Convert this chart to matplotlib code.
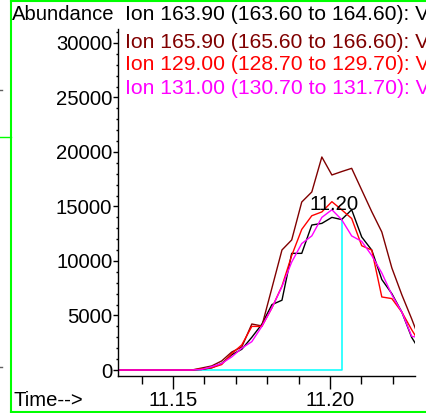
import matplotlib
matplotlib.use("Agg")
import matplotlib.pyplot as plt
from matplotlib.lines import Line2D
from matplotlib.ticker import MultipleLocator

plt.rcParams['font.family'] = ['Liberation Sans', 'DejaVu Sans']

# retention time (min) of each scan
tempos = [11.1300, 11.1528, 11.1560, 11.1591, 11.1623, 11.1655, 11.1687, 11.1719,
          11.1751, 11.1783, 11.1815, 11.1847, 11.1878, 11.1910, 11.1942, 11.1974,
          11.2006, 11.2037, 11.2069, 11.2101, 11.2133, 11.2165, 11.2197, 11.2229,
          11.2260, 11.2292]

# abundancias por ion
ion_163 = [0, 0, 0, 50, 200, 600, 1400, 1900, 3000, 4200, 6000, 6400, 10700, 10700,
           13300, 13450, 14000, 13800, 14700, 12200, 11000, 8300, 7000, 5300, 3000, 1500]
ion_165 = [0, 0, 0, 180, 370, 830, 1650, 2110, 4220, 4040, 7520, 11010, 11930, 15410,
           16330, 19540, 17890, 18200, 18500, 16510, 14520, 12660, 9360, 6880, 4700, 2300]
ion_129 = [0, 0, 0, 100, 200, 500, 1500, 2300, 4000, 4000, 5700, 7700, 10500, 12900,
           14150, 14500, 15440, 14700, 13900, 11400, 11000, 6700, 6550, 5300, 3700, 2200]
ion_131 = [0, 0, 0, 50, 300, 600, 1200, 2000, 2600, 4000, 5700, 7650, 9900, 11600,
           12300, 14000, 14700, 13800, 12300, 11800, 10500, 8900, 6900, 5300, 3100, 2900]

legendas = ["Ion 163.90 (163.60 to 164.60): V",
            "Ion 165.90 (165.60 to 166.60): V",
            "Ion 129.00 (128.70 to 129.70): V",
            "Ion 131.00 (130.70 to 131.70): V"]
cores = ['black', '#800000', '#ff0000', '#ff00ff']

# integracao do pico
fim_integracao = 11.2037
rotulo_pico = "11.20"
pos_rotulo = (11.2012, 15140)

FS = 14.6
FS_LEG = 15.2
W, H = 426, 413
fig = plt.figure(figsize=(W / 100, H / 100), dpi=100)
ax = fig.add_axes([118 / W, (H - 376) / H, (415 - 118) / W, (376 - 29) / H])

# linha de base ciano
i_fim = tempos.index(fim_integracao)
ax.plot([tempos[0], fim_integracao, fim_integracao], [0, 0, ion_163[i_fim]],
        color='#00ffff', lw=1.1, zorder=1)

for serie, cor in zip([ion_163, ion_165, ion_129, ion_131], cores):
    ax.plot(tempos, serie, color=cor, lw=1.0, zorder=2)

ax.text(pos_rotulo[0], pos_rotulo[1], rotulo_pico, ha='center', va='center',
        fontsize=FS, color='black', zorder=3)

ax.set_xlim(11.13248, 11.22707)
ax.set_ylim(-550, 31280)
for s in ['top', 'right']:
    ax.spines[s].set_visible(False)
ax.spines['left'].set_linewidth(1.0)
ax.spines['bottom'].set_linewidth(1.0)

ax.xaxis.set_major_locator(MultipleLocator(0.05))
ax.xaxis.set_minor_locator(MultipleLocator(0.01))
ax.yaxis.set_major_locator(MultipleLocator(5000))
ax.yaxis.set_minor_locator(MultipleLocator(1000))
ax.xaxis.set_major_formatter(plt.FuncFormatter(lambda v, p: f"{v:.2f}"))
ax.yaxis.set_major_formatter(plt.FuncFormatter(lambda v, p: f"{v:.0f}"))
ax.tick_params(axis='x', which='major', length=9.5, width=1, pad=1, labelsize=FS)
ax.tick_params(axis='x', which='minor', length=5.5, width=1)
ax.tick_params(axis='y', which='major', length=3.5, width=1, pad=0.6, labelsize=FS)
ax.tick_params(axis='y', which='minor', length=1.5, width=1)

# textos de cabecalho
fig.text(12 / W, 1 - 15 / H, "Abundance", ha='left', va='center', fontsize=FS)
fig.text(13 / W, 1 - 400 / H, "Time-->", ha='left', va='center', fontsize=FS)
for k, (txt, cor) in enumerate(zip(legendas, cores)):
    y = [15, 42, 65, 88][k]
    fig.text(125 / W, 1 - y / H, txt, ha='left', va='center', fontsize=FS_LEG, color=cor)

# moldura verde da janela
verde = '#00ff00'
fig.add_artist(Line2D([11 / W, 11 / W], [0, 1], color=verde, lw=1.5))
fig.add_artist(Line2D([11 / W, 1], [1 - 1 / H, 1 - 1 / H], color=verde, lw=1.5))
fig.add_artist(Line2D([11 / W, 1], [1 - 411.5 / H, 1 - 411.5 / H], color=verde, lw=1.5))
fig.add_artist(Line2D([0, 11 / W], [1 - 136.5 / H, 1 - 136.5 / H], color=verde, lw=1.0))
for yy in [90, 367]:
    fig.add_artist(Line2D([0, 2 / W], [1 - yy / H, 1 - yy / H], color='#606060', lw=1.0))

fig.savefig('out.png', dpi=100)
